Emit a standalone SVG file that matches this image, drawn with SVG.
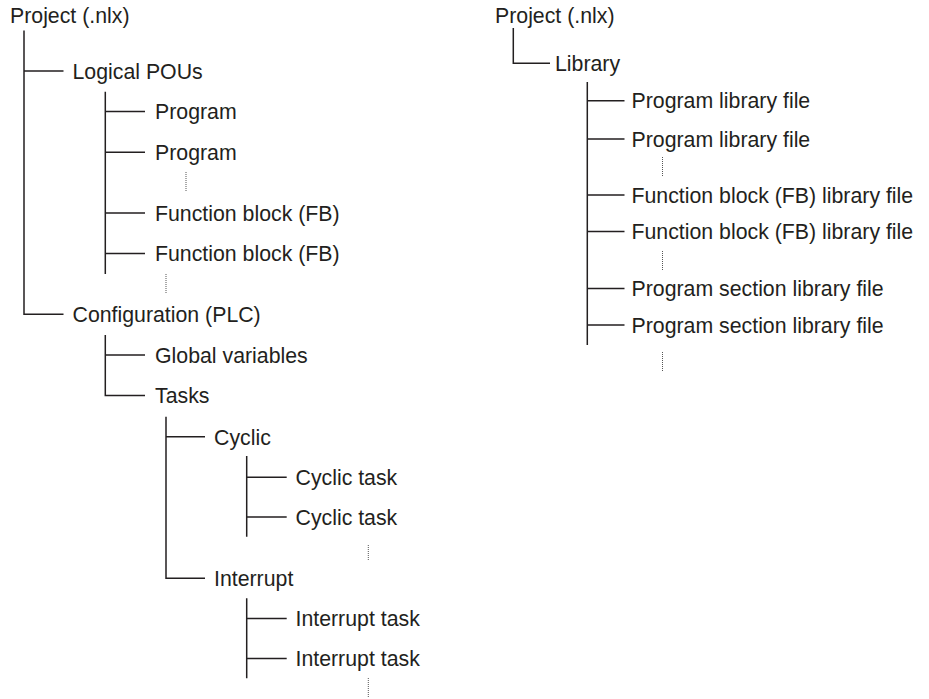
<svg xmlns="http://www.w3.org/2000/svg" width="929" height="699" viewBox="0 0 929 699">
  <style>
    .lbl { font-family: "Liberation Sans", Arial, Helvetica, sans-serif; font-size: 21.3px; fill: #231f20; }
    .ln { stroke: #231f20; stroke-width: 1.5; fill: none; }
    .dots { stroke: #555; stroke-width: 1; stroke-dasharray: 1 1; fill: none; }
  </style>
  <rect width="929" height="699" fill="#ffffff"/>

  <!-- tree connectors -->
  <g id="connectors">
    <!-- left tree: project root -->
    <path class="ln" d="M24 30.5 V314.3 H63.5 M24 71 H63.5"/>
    <!-- Logical POUs children -->
    <path class="ln" d="M105.3 91.7 V274 M105.3 111.6 H145 M105.3 152.2 H145 M105.3 213 H145 M105.3 253.6 H145"/>
    <!-- Configuration children -->
    <path class="ln" d="M105.3 335 V395.5 H145 M105.3 355 H145"/>
    <!-- Tasks children -->
    <path class="ln" d="M166 416.7 V578.3 H205 M166 436.8 H205"/>
    <!-- Cyclic children -->
    <path class="ln" d="M246.7 456 V536.7 M246.7 477.3 H286.7 M246.7 517 H286.7"/>
    <!-- Interrupt children -->
    <path class="ln" d="M246.7 598.3 V678.3 M246.7 618.5 H286.7 M246.7 658.5 H286.7"/>
    <!-- continuation dots, left tree -->
    <path class="dots" d="M186 172 V192 M166 274 V293 M368.3 545 V560 M368.3 678 V698"/>

    <!-- right tree: project root -->
    <path class="ln" d="M513.3 28 V63.3 H550"/>
    <!-- Library children -->
    <path class="ln" d="M587.3 82 V345 M587.3 100.7 H624.5 M587.3 139 H624.5 M587.3 195 H624.5 M587.3 231.5 H624.5 M587.3 288.5 H624.5 M587.3 325 H624.5"/>
    <!-- continuation dots, right tree -->
    <path class="dots" d="M662.5 157 V177 M662.5 251 V270 M662.5 352 V372"/>
  </g>

  <!-- left tree nodes -->
  <g id="project-left"><text class="lbl" x="10" y="23.3">Project (.nlx)</text></g>
  <g id="logical-pous"><text class="lbl" x="72.5" y="78.8">Logical POUs</text></g>
  <g id="program-1"><text class="lbl" x="155" y="119.3">Program</text></g>
  <g id="program-2"><text class="lbl" x="155" y="159.9">Program</text></g>
  <g id="fb-1"><text class="lbl" x="155" y="220.7">Function block (FB)</text></g>
  <g id="fb-2"><text class="lbl" x="155" y="261.3">Function block (FB)</text></g>
  <g id="configuration"><text class="lbl" x="72.5" y="322">Configuration (PLC)</text></g>
  <g id="global-variables"><text class="lbl" x="155" y="362.7">Global variables</text></g>
  <g id="tasks"><text class="lbl" x="155" y="403.2">Tasks</text></g>
  <g id="cyclic"><text class="lbl" x="214" y="444.5">Cyclic</text></g>
  <g id="cyclic-task-1"><text class="lbl" x="295.5" y="485">Cyclic task</text></g>
  <g id="cyclic-task-2"><text class="lbl" x="295.5" y="524.7">Cyclic task</text></g>
  <g id="interrupt"><text class="lbl" x="214" y="586">Interrupt</text></g>
  <g id="interrupt-task-1"><text class="lbl" x="295.5" y="626.2">Interrupt task</text></g>
  <g id="interrupt-task-2"><text class="lbl" x="295.5" y="666.2">Interrupt task</text></g>

  <!-- right tree nodes -->
  <g id="project-right"><text class="lbl" x="495" y="23.3">Project (.nlx)</text></g>
  <g id="library"><text class="lbl" x="555" y="70.7">Library</text></g>
  <g id="program-lib-1"><text class="lbl" x="631.5" y="108.4">Program library file</text></g>
  <g id="program-lib-2"><text class="lbl" x="631.5" y="146.7">Program library file</text></g>
  <g id="fb-lib-1"><text class="lbl" x="631.5" y="202.7">Function block (FB) library file</text></g>
  <g id="fb-lib-2"><text class="lbl" x="631.5" y="239.2">Function block (FB) library file</text></g>
  <g id="section-lib-1"><text class="lbl" x="631.5" y="296.2">Program section library file</text></g>
  <g id="section-lib-2"><text class="lbl" x="631.5" y="332.7">Program section library file</text></g>
</svg>
